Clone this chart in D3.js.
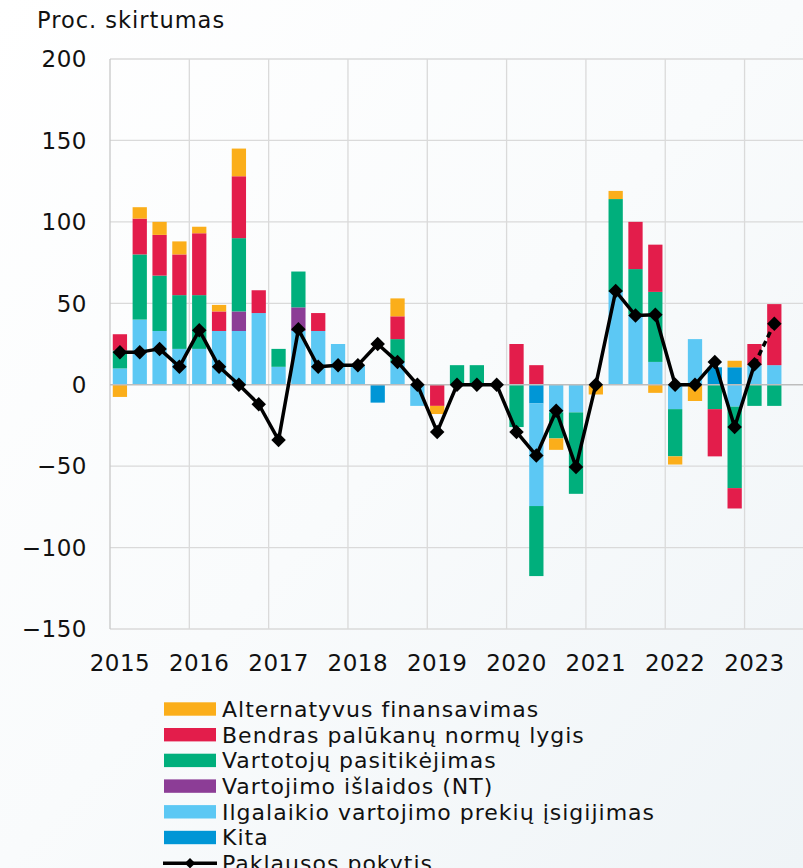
<!DOCTYPE html>
<html>
<head>
<meta charset="utf-8">
<script src="https://cdn.jsdelivr.net/npm/d3@7"></script>
<style>
  html, body { margin: 0; padding: 0; }
  body { width: 803px; height: 868px; overflow: hidden; }
  text { font-family: "DejaVu Sans", Verdana, sans-serif; fill: #111; }
</style>
</head>
<body>
<svg id="chart" width="803" height="868"></svg>
<script>
// ---- Data ----
const quarters = ["2015Q1","2015Q2","2015Q3","2015Q4","2016Q1","2016Q2","2016Q3","2016Q4",
  "2017Q1","2017Q2","2017Q3","2017Q4","2018Q1","2018Q2","2018Q3","2018Q4",
  "2019Q1","2019Q2","2019Q3","2019Q4","2020Q1","2020Q2","2020Q3","2020Q4",
  "2021Q1","2021Q2","2021Q3","2021Q4","2022Q1","2022Q2","2022Q3","2022Q4",
  "2023Q1","2023Q2"];
const axisQuarters = quarters.concat(["2023Q3","2023Q4"]);
const yearLabels = ["2015","2016","2017","2018","2019","2020","2021","2022","2023"];
const yTicks = [-150, -100, -50, 0, 50, 100, 150, 200];

const kita        = [0,0,0,0,0,0,0,0, 0,0,0,0,0,-11,0,0, 0,0,0,0,0,-11.5,0,0, 0,0,0,0,0,0,10.7,10.7, 0,0];
const ilgalaikio  = [10,40,33,22,22,33,33,44, 11,33,33,25,12,0,14,-13, 0,0,0,0,0,-63,-17,-17, 0,57,43,14,-15,28,0,-13.5, 12,12];
const islaidos    = [0,0,0,0,0,0,12,0, 0,14.5,0,0,0,0,0,0, 0,0,0,0,0,0,0,0, 0,0,0,0,0,0,0,0, 0,0];
const pasitikejimas = [11,40,34,33,33,0,45,0, 11,22,0,0,0,0,14,0, 0,12,12,0,-26,-43,-16,-50, 0,57,28,43,-29,0,-15,-50, -13,-13];
const palukanos   = [10,22,25,25,38,12,38,14, 0,0,11,0,0,0,14,0, -13,0,0,0,25,12,0,0, 0,0,29,29,0,0,-29,-12.5, 13,37.5];
const alternatyvus = [-7.5,7,8,8,4,4,17,0, 0,0,0,0,0,0,11,0, -5,0,0,0,0,0,-7,0, -6,5,0,-5,-5,-10,0,4, 0,0];
const paklausa    = [20,20,22,11,33.5,11,0,-12, -34,34,11,12,12,25,14,0, -29,0,0,0,-29,-43.5,-16,-50.5, 0,57.5,42.5,43,0,0,14,-26, 12.5,37.5];

const seriesKeys = ["kita","ilgalaikio","islaidos","pasitikejimas","palukanos","alternatyvus"];
const seriesArrays = {kita, ilgalaikio, islaidos, pasitikejimas, palukanos, alternatyvus};
const colors = {
  alternatyvus: "#FBAE1A",
  palukanos: "#E31D4B",
  pasitikejimas: "#00AF7C",
  islaidos: "#8C3D96",
  ilgalaikio: "#5CC8F4",
  kita: "#0096D6"
};
const legendItems = [
  {key: "alternatyvus", label: "Alternatyvus finansavimas"},
  {key: "palukanos", label: "Bendras palūkanų normų lygis"},
  {key: "pasitikejimas", label: "Vartotojų pasitikėjimas"},
  {key: "islaidos", label: "Vartojimo išlaidos (NT)"},
  {key: "ilgalaikio", label: "Ilgalaikio vartojimo prekių įsigijimas"},
  {key: "kita", label: "Kita"}
];
const lineLabel = "Paklausos pokytis";
const yTitle = "Proc. skirtumas";

// ---- Chart ----
const svg = d3.select("#chart");
const W = 803, H = 868;

const defs = svg.append("defs");
const grad = defs.append("linearGradient").attr("id","bg").attr("x1","0").attr("y1","0").attr("x2","1").attr("y2","1");
grad.append("stop").attr("offset","0").attr("stop-color","#FFFFFF");
grad.append("stop").attr("offset","0.5").attr("stop-color","#F9FBFC");
grad.append("stop").attr("offset","1").attr("stop-color","#EFF4F7");
svg.append("rect").attr("width",W).attr("height",H).attr("fill","url(#bg)");

const left = 110, quarterW = 19.83;
const x = d3.scaleBand().domain(axisQuarters)
  .range([left, left + quarterW * axisQuarters.length])
  .paddingInner(0.28).paddingOuter(0.14);
const xc = q => x(q) + x.bandwidth() / 2;
const y = d3.scaleLinear().domain([-150, 200]).range([629, 59]);

// grid
const grid = svg.append("g");
grid.selectAll("line.h").data(yTicks.filter(t => t !== 0)).join("line")
  .attr("x1", left).attr("x2", W).attr("y1", d => y(d)).attr("y2", d => y(d))
  .attr("stroke", "#DADADA").attr("stroke-width", 1.3);
const yearStarts = yearLabels.map(yr => yr + "Q1");
grid.selectAll("line.v").data(yearStarts.slice(1)).join("line")
  .attr("x1", d => x(d) - x.step()*x.paddingInner()/2).attr("x2", d => x(d) - x.step()*x.paddingInner()/2)
  .attr("y1", y(200)).attr("y2", y(-150))
  .attr("stroke", "#DADADA").attr("stroke-width", 1.3);
grid.append("line").attr("x1", left).attr("x2", left).attr("y1", y(200)).attr("y2", y(-150))
  .attr("stroke", "#C8C8C8").attr("stroke-width", 1.3);

// stacked bars
const rows = quarters.map((q, i) => {
  const r = {q};
  seriesKeys.forEach(k => r[k] = seriesArrays[k][i]);
  return r;
});
const stacked = d3.stack().keys(seriesKeys).offset(d3.stackOffsetDiverging)(rows);
svg.append("g").selectAll("g").data(stacked).join("g")
  .attr("fill", d => colors[d.key])
  .selectAll("rect").data(d => d.filter(s => s[1] !== s[0])).join("rect")
  .attr("x", d => x(d.data.q)).attr("width", x.bandwidth())
  .attr("y", d => y(Math.max(d[0], d[1])))
  .attr("height", d => Math.abs(y(d[0]) - y(d[1])));

// zero line
svg.append("line").attr("x1", left).attr("x2", W).attr("y1", y(0)).attr("y2", y(0))
  .attr("stroke", "#BDBDBD").attr("stroke-width", 1.5);

// demand line
const pts = quarters.map((q, i) => ({q, v: paklausa[i]}));
const line = d3.line().x(d => xc(d.q)).y(d => y(d.v));
svg.append("path").datum(pts.slice(0, pts.length - 1)).attr("d", line)
  .attr("fill", "none").attr("stroke", "#000").attr("stroke-width", 3.5).attr("stroke-linejoin","round");
svg.append("path").datum(pts.slice(pts.length - 2)).attr("d", line)
  .attr("fill", "none").attr("stroke", "#000").attr("stroke-width", 3.5).attr("stroke-dasharray", "6,4");
const diamond = d3.symbol().type(d3.symbolSquare).size(105);
svg.append("g").selectAll("path").data(pts).join("path")
  .attr("d", diamond)
  .attr("transform", d => `translate(${xc(d.q)},${y(d.v)}) rotate(45)`)
  .attr("fill", "#000");

// y axis labels
svg.append("g").selectAll("text").data(yTicks).join("text")
  .attr("x", 87).attr("y", d => y(d)).attr("dy", "0.36em")
  .attr("text-anchor", "end").style("font-size", "23px").style("letter-spacing","0.5px")
  .text(d => d < 0 ? "\u2212" + Math.abs(d) : d);

// x labels
svg.append("g").selectAll("text").data(yearLabels).join("text")
  .attr("x", d => xc(d + "Q1")).attr("y", 671)
  .attr("text-anchor", "middle").style("font-size", "23px").style("letter-spacing","0.5px")
  .text(d => d);

// title
svg.append("text").attr("x", 37).attr("y", 27.5).style("font-size", "22.5px").style("letter-spacing","1px").text(yTitle);

// legend
const lg = svg.append("g");
const rowH = 25.7, ly0 = 702.3;
legendItems.forEach((it, i) => {
  const yy = ly0 + i * rowH;
  lg.append("rect").attr("x", 164).attr("y", yy).attr("width", 52).attr("height", 13.4).attr("fill", colors[it.key]);
  lg.append("text").attr("x", 222).attr("y", yy + 14.5).style("font-size", "22px").style("letter-spacing","1px").text(it.label);
});
const lyl = ly0 + 6 * rowH + 6.7;
lg.append("line").attr("x1", 163).attr("x2", 217).attr("y1", lyl).attr("y2", lyl).attr("stroke", "#000").attr("stroke-width", 3.5);
lg.append("path").attr("d", d3.symbol().type(d3.symbolSquare).size(55)).attr("transform", `translate(190,${lyl}) rotate(45)`).attr("fill","#000");
lg.append("text").attr("x", 222).attr("y", lyl + 7.8).style("font-size", "22px").style("letter-spacing","1px").text(lineLabel);
</script>
</body>
</html>
